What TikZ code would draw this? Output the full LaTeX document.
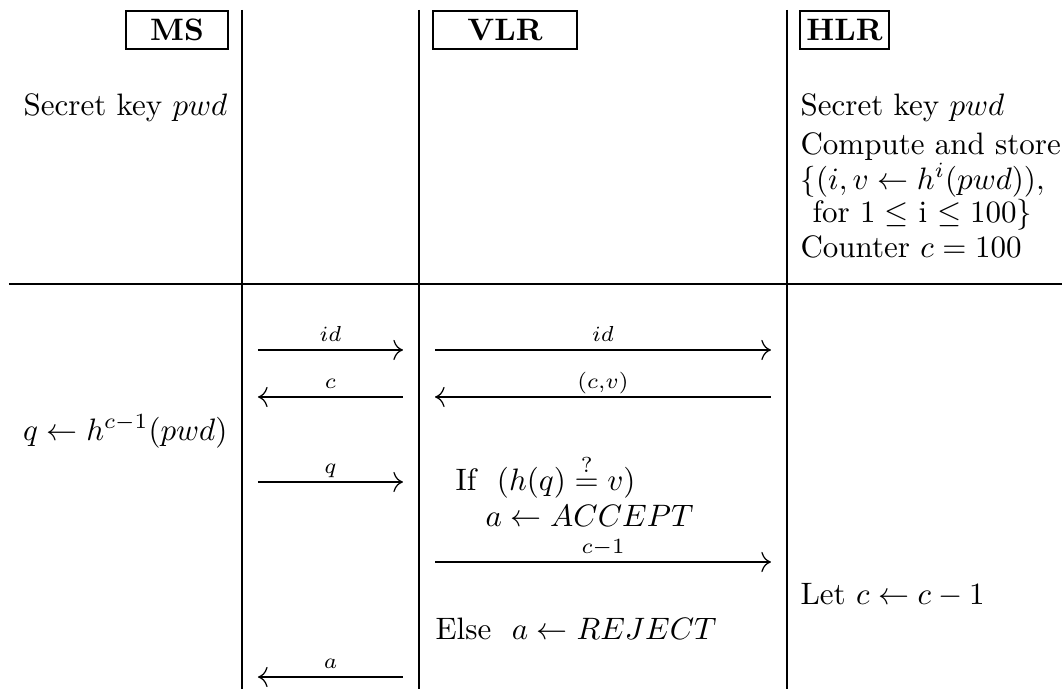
\documentclass[tikz,border=0pt]{standalone}
\usepackage{amsmath,amssymb}
\usepackage{tikz}
\usetikzlibrary{arrows.meta,positioning}

\tikzset{
  party/.style={draw,thin,font=\bfseries,minimum height=0.43cm,inner sep=0pt},
  msg/.style={thin,-{To[scale=1.25]}},
  lbl/.style={font=\scriptsize,anchor=base,yshift=2.6pt,inner sep=0pt},
  txt/.style={inner sep=0pt}
}

\begin{document}
\begin{tikzpicture}[scale=1.0]
\useasboundingbox (0,0) rectangle (12.041,-7.812);
% table rules
\foreach \x in {2.744,4.751,8.923}
  \draw[thin] (\x,-0.113)--(\x,-7.812);
\draw[thin] (0.102,-3.220)--(12.041,-3.220);
% parties
\node[party,minimum width=1.157cm] (ms) at (2.007,-0.340) {MS};
\node[party,minimum width=1.633cm] (vlr) at (5.726,-0.340) {VLR};
\node[party,minimum width=1.009cm] (hlr) at (9.575,-0.340) {HLR};
% set-up phase
\node[txt,anchor=base east] (mskey) at (2.585,-1.315) {Secret key $pwd$};
\node[txt,anchor=base west] (hlrkey) at (9.070,-1.315) {Secret key $pwd$};
\node[txt,anchor=base west] (hlrcomp) at (9.070,-1.757) {Compute and store};
\node[txt,anchor=base west] (hlrset) at (9.070,-2.143) {$\{(i,v\leftarrow h^{i}(pwd)),$};
\node[txt,anchor=base west] (hlrfor) at (9.206,-2.528) {for $1\leq$ i $\leq 100\}$};
\node[txt,anchor=base west] (hlrctr) at (9.070,-2.914) {Counter $c=100$};
% protocol run
\node[txt,anchor=base east] (msq) at (2.585,-4.989) {$q\leftarrow h^{c-1}(pwd)$};
\node[txt,anchor=base west] (vif) at (5.159,-5.556) {If\ \ $(h(q)\stackrel{?}{=}v)$};
\node[txt,anchor=base west] (vacc) at (5.499,-5.964) {$a\leftarrow ACCEPT$};
\node[txt,anchor=base west] (hlet) at (9.070,-6.859) {Let $c\leftarrow c-1$};
\node[txt,anchor=base west] (vrej) at (4.932,-7.256) {Else\ \ $a\leftarrow REJECT$};
% messages
\foreach \n/\xa/\xb/\y/\l in {1/2.925/4.569/-3.968/{$id$},
                              2/4.569/2.925/-4.501/{$c$},
                              3/2.925/4.569/-5.465/{$q$},
                              4/4.569/2.925/-7.676/{$a$},
                              5/4.932/8.741/-3.968/{$id$},
                              6/8.741/4.932/-4.501/{$(c{,}v)$},
                              7/4.932/8.741/-6.372/{$c{-}1$}}
{
  \coordinate (s\n) at (\xa,\y);
  \coordinate (e\n) at (\xb,\y);
  \draw[msg] (s\n) -- node[lbl] {\l} (e\n);
}
\end{tikzpicture}
\end{document}
